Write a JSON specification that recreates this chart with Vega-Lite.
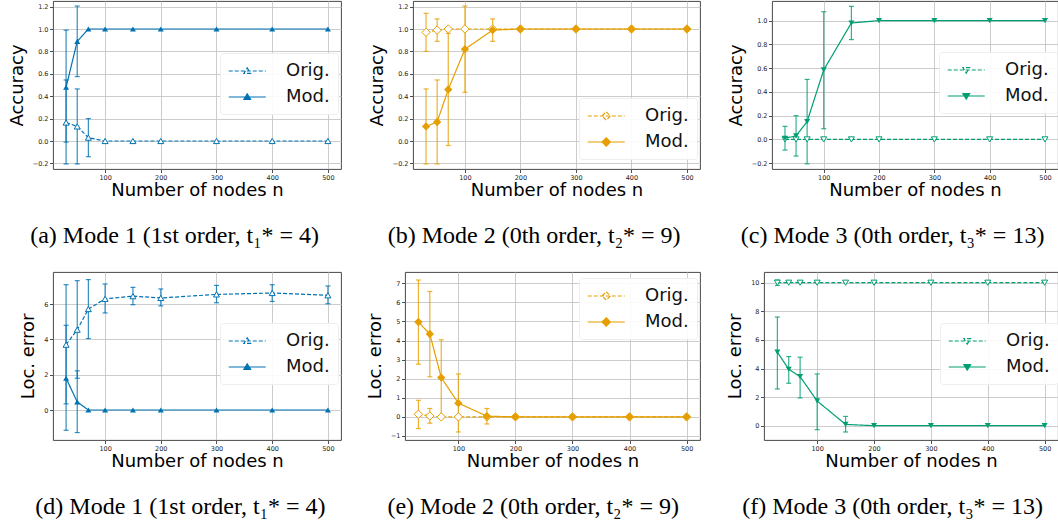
{
  "$schema": "https://vega.github.io/schema/vega-lite/v6.json",
  "padding": {"left": 7, "top": 0, "right": 0, "bottom": 0},
  "background": "white",
  "spacing": 23,
  "config": {
    "view": {"stroke": "#333", "strokeWidth": 0.9},
    "axis": {"labelFont": "DejaVu Sans", "labelFontSize": 6.5, "labelColor": "#222", "tickColor": "#222", "tickSize": 3.5, "tickWidth": 0.8, "labelPadding": 1.5, "domain": false, "grid": true, "gridColor": "#c6c6c6", "gridWidth": 0.9, "titleFont": "DejaVu Sans", "titleFontSize": 18, "titleFontWeight": "normal", "titleColor": "#000"},
    "axisX": {"titlePadding": 1},
    "axisY": {"titlePadding": 6},
    "title": {"orient": "bottom", "anchor": "middle", "frame": "bounds", "font": "Liberation Serif", "fontSize": 24, "fontWeight": "normal", "color": "#000", "offset": 24},
    "legend": {"title": null, "orient": "none", "symbolSize": 342, "symbolStrokeWidth": 1.2, "labelFontSize": 18, "labelFont": "DejaVu Sans", "labelColor": "#111", "labelOffset": 38, "fillColor": "rgba(255,255,255,0.9)", "strokeColor": "#eeeeee", "padding": 8, "rowPadding": 7, "cornerRadius": 3}
  },
  "data": {"values": [
    {"p":"a","s":"Orig.","n":30,"v":0.165,"lo":-0.205,"hi":0.545},
    {"p":"a","s":"Orig.","n":50,"v":0.13,"lo":-0.205,"hi":0.465},
    {"p":"a","s":"Orig.","n":70,"v":0.03,"lo":-0.14,"hi":0.2},
    {"p":"a","s":"Orig.","n":100,"v":0},
    {"p":"a","s":"Orig.","n":150,"v":0},
    {"p":"a","s":"Orig.","n":200,"v":0},
    {"p":"a","s":"Orig.","n":300,"v":0},
    {"p":"a","s":"Orig.","n":400,"v":0},
    {"p":"a","s":"Orig.","n":500,"v":0},
    {"p":"a","s":"Mod.","n":30,"v":0.48,"lo":-0.01,"hi":0.99},
    {"p":"a","s":"Mod.","n":50,"v":0.89,"lo":0.575,"hi":1.205},
    {"p":"a","s":"Mod.","n":70,"v":1},
    {"p":"a","s":"Mod.","n":100,"v":1},
    {"p":"a","s":"Mod.","n":150,"v":1},
    {"p":"a","s":"Mod.","n":200,"v":1},
    {"p":"a","s":"Mod.","n":300,"v":1},
    {"p":"a","s":"Mod.","n":400,"v":1},
    {"p":"a","s":"Mod.","n":500,"v":1},

    {"p":"b","s":"Orig.","n":30,"v":0.97,"lo":0.8,"hi":1.14},
    {"p":"b","s":"Orig.","n":50,"v":0.99,"lo":0.89,"hi":1.09},
    {"p":"b","s":"Orig.","n":70,"v":1},
    {"p":"b","s":"Orig.","n":100,"v":1},
    {"p":"b","s":"Orig.","n":150,"v":1},
    {"p":"b","s":"Orig.","n":200,"v":1},
    {"p":"b","s":"Orig.","n":300,"v":1},
    {"p":"b","s":"Orig.","n":400,"v":1},
    {"p":"b","s":"Orig.","n":500,"v":1},
    {"p":"b","s":"Mod.","n":30,"v":0.13,"lo":-0.205,"hi":0.465},
    {"p":"b","s":"Mod.","n":50,"v":0.17,"lo":-0.205,"hi":0.545},
    {"p":"b","s":"Mod.","n":70,"v":0.46,"lo":-0.04,"hi":0.96},
    {"p":"b","s":"Mod.","n":100,"v":0.82,"lo":0.435,"hi":1.205},
    {"p":"b","s":"Mod.","n":150,"v":0.99,"lo":0.89,"hi":1.09},
    {"p":"b","s":"Mod.","n":200,"v":1},
    {"p":"b","s":"Mod.","n":300,"v":1},
    {"p":"b","s":"Mod.","n":400,"v":1},
    {"p":"b","s":"Mod.","n":500,"v":1},

    {"p":"c","s":"Orig.","n":30,"v":0},
    {"p":"c","s":"Orig.","n":50,"v":0},
    {"p":"c","s":"Orig.","n":70,"v":0},
    {"p":"c","s":"Orig.","n":100,"v":0},
    {"p":"c","s":"Orig.","n":150,"v":0},
    {"p":"c","s":"Orig.","n":200,"v":0},
    {"p":"c","s":"Orig.","n":300,"v":0},
    {"p":"c","s":"Orig.","n":400,"v":0},
    {"p":"c","s":"Orig.","n":500,"v":0},
    {"p":"c","s":"Mod.","n":30,"v":0.01,"lo":-0.09,"hi":0.11},
    {"p":"c","s":"Mod.","n":50,"v":0.03,"lo":-0.14,"hi":0.2},
    {"p":"c","s":"Mod.","n":70,"v":0.15,"lo":-0.205,"hi":0.505},
    {"p":"c","s":"Mod.","n":100,"v":0.585,"lo":0.09,"hi":1.075},
    {"p":"c","s":"Mod.","n":150,"v":0.98,"lo":0.84,"hi":1.12},
    {"p":"c","s":"Mod.","n":200,"v":1},
    {"p":"c","s":"Mod.","n":300,"v":1},
    {"p":"c","s":"Mod.","n":400,"v":1},
    {"p":"c","s":"Mod.","n":500,"v":1},

    {"p":"d","s":"Orig.","n":30,"v":3.7,"lo":0.35,"hi":7.1},
    {"p":"d","s":"Orig.","n":50,"v":4.55,"lo":1.8,"hi":7.33},
    {"p":"d","s":"Orig.","n":70,"v":5.72,"lo":4.05,"hi":7.39},
    {"p":"d","s":"Orig.","n":100,"v":6.3,"lo":5.5,"hi":7.14},
    {"p":"d","s":"Orig.","n":150,"v":6.45,"lo":5.97,"hi":6.95},
    {"p":"d","s":"Orig.","n":200,"v":6.35,"lo":5.9,"hi":6.86},
    {"p":"d","s":"Orig.","n":300,"v":6.55,"lo":6.08,"hi":7.06},
    {"p":"d","s":"Orig.","n":400,"v":6.63,"lo":6.15,"hi":7.1},
    {"p":"d","s":"Orig.","n":500,"v":6.5,"lo":6.02,"hi":7.03},
    {"p":"d","s":"Mod.","n":30,"v":1.8,"lo":-1.15,"hi":4.8},
    {"p":"d","s":"Mod.","n":50,"v":0.46,"lo":-1.28,"hi":2.22},
    {"p":"d","s":"Mod.","n":70,"v":0},
    {"p":"d","s":"Mod.","n":100,"v":0},
    {"p":"d","s":"Mod.","n":150,"v":0},
    {"p":"d","s":"Mod.","n":200,"v":0},
    {"p":"d","s":"Mod.","n":300,"v":0},
    {"p":"d","s":"Mod.","n":400,"v":0},
    {"p":"d","s":"Mod.","n":500,"v":0},

    {"p":"e","s":"Orig.","n":30,"v":0.14,"lo":-0.61,"hi":0.87},
    {"p":"e","s":"Orig.","n":50,"v":0.05,"lo":-0.33,"hi":0.44},
    {"p":"e","s":"Orig.","n":70,"v":0},
    {"p":"e","s":"Orig.","n":100,"v":0},
    {"p":"e","s":"Orig.","n":150,"v":0},
    {"p":"e","s":"Orig.","n":200,"v":0},
    {"p":"e","s":"Orig.","n":300,"v":0},
    {"p":"e","s":"Orig.","n":400,"v":0},
    {"p":"e","s":"Orig.","n":500,"v":0},
    {"p":"e","s":"Mod.","n":30,"v":4.97,"lo":2.76,"hi":7.17},
    {"p":"e","s":"Mod.","n":50,"v":4.34,"lo":2.1,"hi":6.57},
    {"p":"e","s":"Mod.","n":70,"v":2.06,"lo":0.07,"hi":4.04},
    {"p":"e","s":"Mod.","n":100,"v":0.72,"lo":-0.79,"hi":2.25},
    {"p":"e","s":"Mod.","n":150,"v":0.04,"lo":-0.37,"hi":0.44},
    {"p":"e","s":"Mod.","n":200,"v":0},
    {"p":"e","s":"Mod.","n":300,"v":0},
    {"p":"e","s":"Mod.","n":400,"v":0},
    {"p":"e","s":"Mod.","n":500,"v":0},

    {"p":"f","s":"Orig.","n":30,"v":10,"lo":9.81,"hi":10.19},
    {"p":"f","s":"Orig.","n":50,"v":10},
    {"p":"f","s":"Orig.","n":70,"v":10},
    {"p":"f","s":"Orig.","n":100,"v":10},
    {"p":"f","s":"Orig.","n":150,"v":10},
    {"p":"f","s":"Orig.","n":200,"v":10},
    {"p":"f","s":"Orig.","n":300,"v":10},
    {"p":"f","s":"Orig.","n":400,"v":10},
    {"p":"f","s":"Orig.","n":500,"v":10},
    {"p":"f","s":"Mod.","n":30,"v":5.14,"lo":2.57,"hi":7.6},
    {"p":"f","s":"Mod.","n":50,"v":3.95,"lo":2.97,"hi":4.84},
    {"p":"f","s":"Mod.","n":70,"v":3.43,"lo":1.94,"hi":4.79},
    {"p":"f","s":"Mod.","n":100,"v":1.73,"lo":-0.28,"hi":3.62},
    {"p":"f","s":"Mod.","n":150,"v":0.09,"lo":-0.44,"hi":0.65},
    {"p":"f","s":"Mod.","n":200,"v":0},
    {"p":"f","s":"Mod.","n":300,"v":0},
    {"p":"f","s":"Mod.","n":400,"v":0},
    {"p":"f","s":"Mod.","n":500,"v":0}
  ]},
  "resolve": {"scale": {"x": "independent", "y": "independent", "strokeDash": "independent"}, "legend": {"strokeDash": "independent"}},
  "vconcat": [
    {
      "spacing": 72,
      "bounds": "flush",
      "resolve": {"scale": {"x": "independent", "y": "independent", "strokeDash": "independent"}, "legend": {"strokeDash": "independent"}},
      "hconcat": [
        {
          "width": 288, "height": 168,
          "title": {"text": "(a) Mode 1 (1st order, t₁* = 4)"},
          "transform": [{"filter": "datum.p === 'a'"}],
          "encoding": {"x": {"field": "n", "type": "quantitative", "scale": {"domain": [6.5, 523.5], "nice": false, "zero": false}, "axis": {"values": [100, 200, 300, 400, 500], "title": "Number of nodes n"}}},
          "layer": [
            {"transform": [{"filter": "isValid(datum.lo)"}], "mark": {"type": "rule", "color": "#0072B2", "strokeWidth": 1.2, "opacity": 0.8}, "encoding": {"y": {"field": "lo", "type": "quantitative", "scale": {"domain": [-0.25, 1.25], "nice": false, "zero": false}, "axis": {"values": [-0.2, 0, 0.2, 0.4, 0.6, 0.8, 1.0, 1.2], "format": ".1f", "title": "Accuracy"}}, "y2": {"field": "hi"}}},
            {"transform": [{"filter": "isValid(datum.lo)"}], "mark": {"type": "tick", "orient": "horizontal", "size": 5, "thickness": 1.2, "color": "#0072B2", "opacity": 0.8}, "encoding": {"y": {"field": "lo", "type": "quantitative", "scale": {"domain": [-0.25, 1.25], "nice": false, "zero": false}, "axis": {"values": [-0.2, 0, 0.2, 0.4, 0.6, 0.8, 1.0, 1.2], "format": ".1f", "title": "Accuracy"}}}},
            {"transform": [{"filter": "isValid(datum.lo)"}], "mark": {"type": "tick", "orient": "horizontal", "size": 5, "thickness": 1.2, "color": "#0072B2", "opacity": 0.8}, "encoding": {"y": {"field": "hi", "type": "quantitative", "scale": {"domain": [-0.25, 1.25], "nice": false, "zero": false}, "axis": {"values": [-0.2, 0, 0.2, 0.4, 0.6, 0.8, 1.0, 1.2], "format": ".1f", "title": "Accuracy"}}}},
            {"mark": {"type": "line", "color": "#0072B2", "strokeWidth": 1.2}, "encoding": {"y": {"field": "v", "type": "quantitative", "scale": {"domain": [-0.25, 1.25], "nice": false, "zero": false}, "axis": {"values": [-0.2, 0, 0.2, 0.4, 0.6, 0.8, 1.0, 1.2], "format": ".1f", "title": "Accuracy"}}, "strokeDash": {"field": "s", "type": "nominal", "scale": {"domain": ["Orig.", "Mod."], "range": [[4, 2], [1, 0]]}, "legend": {"legendX": 167, "legendY": 52, "symbolType": "M-1,0L3,0M1,-0.34L1.36,0.26L0.64,0.26Z", "symbolStrokeColor": "#0072B2", "encode": {"symbols": {"update": {"stroke": {"value": "#0072B2"}, "strokeWidth": {"value": 1.2}, "fill": {"signal": "datum.value === 'Orig.' ? 'white' : '#0072B2'"}}}}}}}},
            {"transform": [{"filter": "datum.s === 'Orig.'"}], "mark": {"type": "point", "shape": "triangle-up", "filled": true, "fill": "white", "stroke": "#0072B2", "strokeWidth": 1, "size": 36, "opacity": 1}, "encoding": {"y": {"field": "v", "type": "quantitative", "scale": {"domain": [-0.25, 1.25], "nice": false, "zero": false}, "axis": {"values": [-0.2, 0, 0.2, 0.4, 0.6, 0.8, 1.0, 1.2], "format": ".1f", "title": "Accuracy"}}}},
            {"transform": [{"filter": "datum.s === 'Mod.'"}], "mark": {"type": "point", "shape": "triangle-up", "filled": true, "color": "#0072B2", "size": 36, "opacity": 1}, "encoding": {"y": {"field": "v", "type": "quantitative", "scale": {"domain": [-0.25, 1.25], "nice": false, "zero": false}, "axis": {"values": [-0.2, 0, 0.2, 0.4, 0.6, 0.8, 1.0, 1.2], "format": ".1f", "title": "Accuracy"}}}}
          ]
        },
        {
          "width": 287, "height": 168,
          "title": {"text": "(b) Mode 2 (0th order, t₂* = 9)"},
          "transform": [{"filter": "datum.p === 'b'"}],
          "encoding": {"x": {"field": "n", "type": "quantitative", "scale": {"domain": [6.5, 523.5], "nice": false, "zero": false}, "axis": {"values": [100, 200, 300, 400, 500], "title": "Number of nodes n"}}},
          "layer": [
            {"transform": [{"filter": "isValid(datum.lo)"}], "mark": {"type": "rule", "color": "#E69F00", "strokeWidth": 1.2, "opacity": 0.8}, "encoding": {"y": {"field": "lo", "type": "quantitative", "scale": {"domain": [-0.25, 1.25], "nice": false, "zero": false}, "axis": {"values": [-0.2, 0, 0.2, 0.4, 0.6, 0.8, 1.0, 1.2], "format": ".1f", "title": "Accuracy"}}, "y2": {"field": "hi"}}},
            {"transform": [{"filter": "isValid(datum.lo)"}], "mark": {"type": "tick", "orient": "horizontal", "size": 5, "thickness": 1.2, "color": "#E69F00", "opacity": 0.8}, "encoding": {"y": {"field": "lo", "type": "quantitative", "scale": {"domain": [-0.25, 1.25], "nice": false, "zero": false}, "axis": {"values": [-0.2, 0, 0.2, 0.4, 0.6, 0.8, 1.0, 1.2], "format": ".1f", "title": "Accuracy"}}}},
            {"transform": [{"filter": "isValid(datum.lo)"}], "mark": {"type": "tick", "orient": "horizontal", "size": 5, "thickness": 1.2, "color": "#E69F00", "opacity": 0.8}, "encoding": {"y": {"field": "hi", "type": "quantitative", "scale": {"domain": [-0.25, 1.25], "nice": false, "zero": false}, "axis": {"values": [-0.2, 0, 0.2, 0.4, 0.6, 0.8, 1.0, 1.2], "format": ".1f", "title": "Accuracy"}}}},
            {"mark": {"type": "line", "color": "#E69F00", "strokeWidth": 1.2}, "encoding": {"y": {"field": "v", "type": "quantitative", "scale": {"domain": [-0.25, 1.25], "nice": false, "zero": false}, "axis": {"values": [-0.2, 0, 0.2, 0.4, 0.6, 0.8, 1.0, 1.2], "format": ".1f", "title": "Accuracy"}}, "strokeDash": {"field": "s", "type": "nominal", "scale": {"domain": ["Orig.", "Mod."], "range": [[4, 2], [1, 0]]}, "legend": {"legendX": 166, "legendY": 97, "symbolType": "M-1,0L3,0M1,-0.45L1.45,0L1,0.45L0.55,0Z", "symbolStrokeColor": "#E69F00", "encode": {"symbols": {"update": {"stroke": {"value": "#E69F00"}, "strokeWidth": {"value": 1.2}, "fill": {"signal": "datum.value === 'Orig.' ? 'white' : '#E69F00'"}}}}}}}},
            {"transform": [{"filter": "datum.s === 'Orig.'"}], "mark": {"type": "point", "shape": "diamond", "filled": true, "fill": "white", "stroke": "#E69F00", "strokeWidth": 1, "size": 70, "opacity": 1}, "encoding": {"y": {"field": "v", "type": "quantitative", "scale": {"domain": [-0.25, 1.25], "nice": false, "zero": false}, "axis": {"values": [-0.2, 0, 0.2, 0.4, 0.6, 0.8, 1.0, 1.2], "format": ".1f", "title": "Accuracy"}}}},
            {"transform": [{"filter": "datum.s === 'Mod.'"}], "mark": {"type": "point", "shape": "diamond", "filled": true, "color": "#E69F00", "size": 70, "opacity": 1}, "encoding": {"y": {"field": "v", "type": "quantitative", "scale": {"domain": [-0.25, 1.25], "nice": false, "zero": false}, "axis": {"values": [-0.2, 0, 0.2, 0.4, 0.6, 0.8, 1.0, 1.2], "format": ".1f", "title": "Accuracy"}}}}
          ]
        },
        {
          "width": 286, "height": 168,
          "title": {"text": "(c) Mode 3 (0th order, t₃* = 13)"},
          "transform": [{"filter": "datum.p === 'c'"}],
          "encoding": {"x": {"field": "n", "type": "quantitative", "scale": {"domain": [6.5, 523.5], "nice": false, "zero": false}, "axis": {"values": [100, 200, 300, 400, 500], "title": "Number of nodes n"}}},
          "layer": [
            {"transform": [{"filter": "isValid(datum.lo)"}], "mark": {"type": "rule", "color": "#009E73", "strokeWidth": 1.2, "opacity": 0.8}, "encoding": {"y": {"field": "lo", "type": "quantitative", "scale": {"domain": [-0.249, 1.165], "nice": false, "zero": false}, "axis": {"values": [-0.2, 0, 0.2, 0.4, 0.6, 0.8, 1.0], "format": ".1f", "title": "Accuracy"}}, "y2": {"field": "hi"}}},
            {"transform": [{"filter": "isValid(datum.lo)"}], "mark": {"type": "tick", "orient": "horizontal", "size": 5, "thickness": 1.2, "color": "#009E73", "opacity": 0.8}, "encoding": {"y": {"field": "lo", "type": "quantitative", "scale": {"domain": [-0.249, 1.165], "nice": false, "zero": false}, "axis": {"values": [-0.2, 0, 0.2, 0.4, 0.6, 0.8, 1.0], "format": ".1f", "title": "Accuracy"}}}},
            {"transform": [{"filter": "isValid(datum.lo)"}], "mark": {"type": "tick", "orient": "horizontal", "size": 5, "thickness": 1.2, "color": "#009E73", "opacity": 0.8}, "encoding": {"y": {"field": "hi", "type": "quantitative", "scale": {"domain": [-0.249, 1.165], "nice": false, "zero": false}, "axis": {"values": [-0.2, 0, 0.2, 0.4, 0.6, 0.8, 1.0], "format": ".1f", "title": "Accuracy"}}}},
            {"mark": {"type": "line", "color": "#009E73", "strokeWidth": 1.2}, "encoding": {"y": {"field": "v", "type": "quantitative", "scale": {"domain": [-0.249, 1.165], "nice": false, "zero": false}, "axis": {"values": [-0.2, 0, 0.2, 0.4, 0.6, 0.8, 1.0], "format": ".1f", "title": "Accuracy"}}, "strokeDash": {"field": "s", "type": "nominal", "scale": {"domain": ["Orig.", "Mod."], "range": [[4, 2], [1, 0]]}, "legend": {"legendX": 167, "legendY": 51, "symbolType": "M-1,0L3,0M1,0.34L1.36,-0.26L0.64,-0.26Z", "symbolStrokeColor": "#009E73", "encode": {"symbols": {"update": {"stroke": {"value": "#009E73"}, "strokeWidth": {"value": 1.2}, "fill": {"signal": "datum.value === 'Orig.' ? 'white' : '#009E73'"}}}}}}}},
            {"transform": [{"filter": "datum.s === 'Orig.'"}], "mark": {"type": "point", "shape": "triangle-down", "filled": true, "fill": "white", "stroke": "#009E73", "strokeWidth": 1, "size": 36, "opacity": 1}, "encoding": {"y": {"field": "v", "type": "quantitative", "scale": {"domain": [-0.249, 1.165], "nice": false, "zero": false}, "axis": {"values": [-0.2, 0, 0.2, 0.4, 0.6, 0.8, 1.0], "format": ".1f", "title": "Accuracy"}}}},
            {"transform": [{"filter": "datum.s === 'Mod.'"}], "mark": {"type": "point", "shape": "triangle-down", "filled": true, "color": "#009E73", "size": 36, "opacity": 1}, "encoding": {"y": {"field": "v", "type": "quantitative", "scale": {"domain": [-0.249, 1.165], "nice": false, "zero": false}, "axis": {"values": [-0.2, 0, 0.2, 0.4, 0.6, 0.8, 1.0], "format": ".1f", "title": "Accuracy"}}}}
          ]
        }
      ]
    },
    {
      "spacing": 64,
      "bounds": "flush",
      "resolve": {"scale": {"x": "independent", "y": "independent", "strokeDash": "independent"}, "legend": {"strokeDash": "independent"}},
      "hconcat": [
        {
          "width": 288, "height": 168,
          "title": {"text": "(d) Mode 1 (1st order, t₁* = 4)"},
          "transform": [{"filter": "datum.p === 'd'"}],
          "encoding": {"x": {"field": "n", "type": "quantitative", "scale": {"domain": [6.5, 523.5], "nice": false, "zero": false}, "axis": {"values": [100, 200, 300, 400, 500], "title": "Number of nodes n"}}},
          "layer": [
            {"transform": [{"filter": "isValid(datum.lo)"}], "mark": {"type": "rule", "color": "#0072B2", "strokeWidth": 1.2, "opacity": 0.8}, "encoding": {"y": {"field": "lo", "type": "quantitative", "scale": {"domain": [-1.7, 7.82], "nice": false, "zero": false}, "axis": {"values": [0, 2, 4, 6], "format": "d", "title": "Loc. error"}}, "y2": {"field": "hi"}}},
            {"transform": [{"filter": "isValid(datum.lo)"}], "mark": {"type": "tick", "orient": "horizontal", "size": 5, "thickness": 1.2, "color": "#0072B2", "opacity": 0.8}, "encoding": {"y": {"field": "lo", "type": "quantitative", "scale": {"domain": [-1.7, 7.82], "nice": false, "zero": false}, "axis": {"values": [0, 2, 4, 6], "format": "d", "title": "Loc. error"}}}},
            {"transform": [{"filter": "isValid(datum.lo)"}], "mark": {"type": "tick", "orient": "horizontal", "size": 5, "thickness": 1.2, "color": "#0072B2", "opacity": 0.8}, "encoding": {"y": {"field": "hi", "type": "quantitative", "scale": {"domain": [-1.7, 7.82], "nice": false, "zero": false}, "axis": {"values": [0, 2, 4, 6], "format": "d", "title": "Loc. error"}}}},
            {"mark": {"type": "line", "color": "#0072B2", "strokeWidth": 1.2}, "encoding": {"y": {"field": "v", "type": "quantitative", "scale": {"domain": [-1.7, 7.82], "nice": false, "zero": false}, "axis": {"values": [0, 2, 4, 6], "format": "d", "title": "Loc. error"}}, "strokeDash": {"field": "s", "type": "nominal", "scale": {"domain": ["Orig.", "Mod."], "range": [[4, 2], [1, 0]]}, "legend": {"legendX": 167, "legendY": 51, "symbolType": "M-1,0L3,0M1,-0.34L1.36,0.26L0.64,0.26Z", "symbolStrokeColor": "#0072B2", "encode": {"symbols": {"update": {"stroke": {"value": "#0072B2"}, "strokeWidth": {"value": 1.2}, "fill": {"signal": "datum.value === 'Orig.' ? 'white' : '#0072B2'"}}}}}}}},
            {"transform": [{"filter": "datum.s === 'Orig.'"}], "mark": {"type": "point", "shape": "triangle-up", "filled": true, "fill": "white", "stroke": "#0072B2", "strokeWidth": 1, "size": 36, "opacity": 1}, "encoding": {"y": {"field": "v", "type": "quantitative", "scale": {"domain": [-1.7, 7.82], "nice": false, "zero": false}, "axis": {"values": [0, 2, 4, 6], "format": "d", "title": "Loc. error"}}}},
            {"transform": [{"filter": "datum.s === 'Mod.'"}], "mark": {"type": "point", "shape": "triangle-up", "filled": true, "color": "#0072B2", "size": 36, "opacity": 1}, "encoding": {"y": {"field": "v", "type": "quantitative", "scale": {"domain": [-1.7, 7.82], "nice": false, "zero": false}, "axis": {"values": [0, 2, 4, 6], "format": "d", "title": "Loc. error"}}}}
          ]
        },
        {
          "width": 295, "height": 168,
          "title": {"text": "(e) Mode 2 (0th order, t₂* = 9)"},
          "transform": [{"filter": "datum.p === 'e'"}],
          "encoding": {"x": {"field": "n", "type": "quantitative", "scale": {"domain": [6.5, 523.5], "nice": false, "zero": false}, "axis": {"values": [100, 200, 300, 400, 500], "title": "Number of nodes n"}}},
          "layer": [
            {"transform": [{"filter": "isValid(datum.lo)"}], "mark": {"type": "rule", "color": "#E69F00", "strokeWidth": 1.2, "opacity": 0.8}, "encoding": {"y": {"field": "lo", "type": "quantitative", "scale": {"domain": [-1.21, 7.59], "nice": false, "zero": false}, "axis": {"values": [-1, 0, 1, 2, 3, 4, 5, 6, 7], "format": "d", "title": "Loc. error"}}, "y2": {"field": "hi"}}},
            {"transform": [{"filter": "isValid(datum.lo)"}], "mark": {"type": "tick", "orient": "horizontal", "size": 5, "thickness": 1.2, "color": "#E69F00", "opacity": 0.8}, "encoding": {"y": {"field": "lo", "type": "quantitative", "scale": {"domain": [-1.21, 7.59], "nice": false, "zero": false}, "axis": {"values": [-1, 0, 1, 2, 3, 4, 5, 6, 7], "format": "d", "title": "Loc. error"}}}},
            {"transform": [{"filter": "isValid(datum.lo)"}], "mark": {"type": "tick", "orient": "horizontal", "size": 5, "thickness": 1.2, "color": "#E69F00", "opacity": 0.8}, "encoding": {"y": {"field": "hi", "type": "quantitative", "scale": {"domain": [-1.21, 7.59], "nice": false, "zero": false}, "axis": {"values": [-1, 0, 1, 2, 3, 4, 5, 6, 7], "format": "d", "title": "Loc. error"}}}},
            {"mark": {"type": "line", "color": "#E69F00", "strokeWidth": 1.2}, "encoding": {"y": {"field": "v", "type": "quantitative", "scale": {"domain": [-1.21, 7.59], "nice": false, "zero": false}, "axis": {"values": [-1, 0, 1, 2, 3, 4, 5, 6, 7], "format": "d", "title": "Loc. error"}}, "strokeDash": {"field": "s", "type": "nominal", "scale": {"domain": ["Orig.", "Mod."], "range": [[4, 2], [1, 0]]}, "legend": {"legendX": 174, "legendY": 6, "symbolType": "M-1,0L3,0M1,-0.45L1.45,0L1,0.45L0.55,0Z", "symbolStrokeColor": "#E69F00", "encode": {"symbols": {"update": {"stroke": {"value": "#E69F00"}, "strokeWidth": {"value": 1.2}, "fill": {"signal": "datum.value === 'Orig.' ? 'white' : '#E69F00'"}}}}}}}},
            {"transform": [{"filter": "datum.s === 'Orig.'"}], "mark": {"type": "point", "shape": "diamond", "filled": true, "fill": "white", "stroke": "#E69F00", "strokeWidth": 1, "size": 70, "opacity": 1}, "encoding": {"y": {"field": "v", "type": "quantitative", "scale": {"domain": [-1.21, 7.59], "nice": false, "zero": false}, "axis": {"values": [-1, 0, 1, 2, 3, 4, 5, 6, 7], "format": "d", "title": "Loc. error"}}}},
            {"transform": [{"filter": "datum.s === 'Mod.'"}], "mark": {"type": "point", "shape": "diamond", "filled": true, "color": "#E69F00", "size": 70, "opacity": 1}, "encoding": {"y": {"field": "v", "type": "quantitative", "scale": {"domain": [-1.21, 7.59], "nice": false, "zero": false}, "axis": {"values": [-1, 0, 1, 2, 3, 4, 5, 6, 7], "format": "d", "title": "Loc. error"}}}}
          ]
        },
        {
          "width": 294, "height": 168,
          "title": {"text": "(f) Mode 3 (0th order, t₃* = 13)"},
          "transform": [{"filter": "datum.p === 'f'"}],
          "encoding": {"x": {"field": "n", "type": "quantitative", "scale": {"domain": [6.5, 523.5], "nice": false, "zero": false}, "axis": {"values": [100, 200, 300, 400, 500], "title": "Number of nodes n"}}},
          "layer": [
            {"transform": [{"filter": "isValid(datum.lo)"}], "mark": {"type": "rule", "color": "#009E73", "strokeWidth": 1.2, "opacity": 0.8}, "encoding": {"y": {"field": "lo", "type": "quantitative", "scale": {"domain": [-1.0, 10.75], "nice": false, "zero": false}, "axis": {"values": [0, 2, 4, 6, 8, 10], "format": "d", "title": "Loc. error"}}, "y2": {"field": "hi"}}},
            {"transform": [{"filter": "isValid(datum.lo)"}], "mark": {"type": "tick", "orient": "horizontal", "size": 5, "thickness": 1.2, "color": "#009E73", "opacity": 0.8}, "encoding": {"y": {"field": "lo", "type": "quantitative", "scale": {"domain": [-1.0, 10.75], "nice": false, "zero": false}, "axis": {"values": [0, 2, 4, 6, 8, 10], "format": "d", "title": "Loc. error"}}}},
            {"transform": [{"filter": "isValid(datum.lo)"}], "mark": {"type": "tick", "orient": "horizontal", "size": 5, "thickness": 1.2, "color": "#009E73", "opacity": 0.8}, "encoding": {"y": {"field": "hi", "type": "quantitative", "scale": {"domain": [-1.0, 10.75], "nice": false, "zero": false}, "axis": {"values": [0, 2, 4, 6, 8, 10], "format": "d", "title": "Loc. error"}}}},
            {"mark": {"type": "line", "color": "#009E73", "strokeWidth": 1.2}, "encoding": {"y": {"field": "v", "type": "quantitative", "scale": {"domain": [-1.0, 10.75], "nice": false, "zero": false}, "axis": {"values": [0, 2, 4, 6, 8, 10], "format": "d", "title": "Loc. error"}}, "strokeDash": {"field": "s", "type": "nominal", "scale": {"domain": ["Orig.", "Mod."], "range": [[4, 2], [1, 0]]}, "legend": {"legendX": 176, "legendY": 51, "symbolType": "M-1,0L3,0M1,0.34L1.36,-0.26L0.64,-0.26Z", "symbolStrokeColor": "#009E73", "encode": {"symbols": {"update": {"stroke": {"value": "#009E73"}, "strokeWidth": {"value": 1.2}, "fill": {"signal": "datum.value === 'Orig.' ? 'white' : '#009E73'"}}}}}}}},
            {"transform": [{"filter": "datum.s === 'Orig.'"}], "mark": {"type": "point", "shape": "triangle-down", "filled": true, "fill": "white", "stroke": "#009E73", "strokeWidth": 1, "size": 36, "opacity": 1}, "encoding": {"y": {"field": "v", "type": "quantitative", "scale": {"domain": [-1.0, 10.75], "nice": false, "zero": false}, "axis": {"values": [0, 2, 4, 6, 8, 10], "format": "d", "title": "Loc. error"}}}},
            {"transform": [{"filter": "datum.s === 'Mod.'"}], "mark": {"type": "point", "shape": "triangle-down", "filled": true, "color": "#009E73", "size": 36, "opacity": 1}, "encoding": {"y": {"field": "v", "type": "quantitative", "scale": {"domain": [-1.0, 10.75], "nice": false, "zero": false}, "axis": {"values": [0, 2, 4, 6, 8, 10], "format": "d", "title": "Loc. error"}}}}
          ]
        }
      ]
    }
  ]
}
